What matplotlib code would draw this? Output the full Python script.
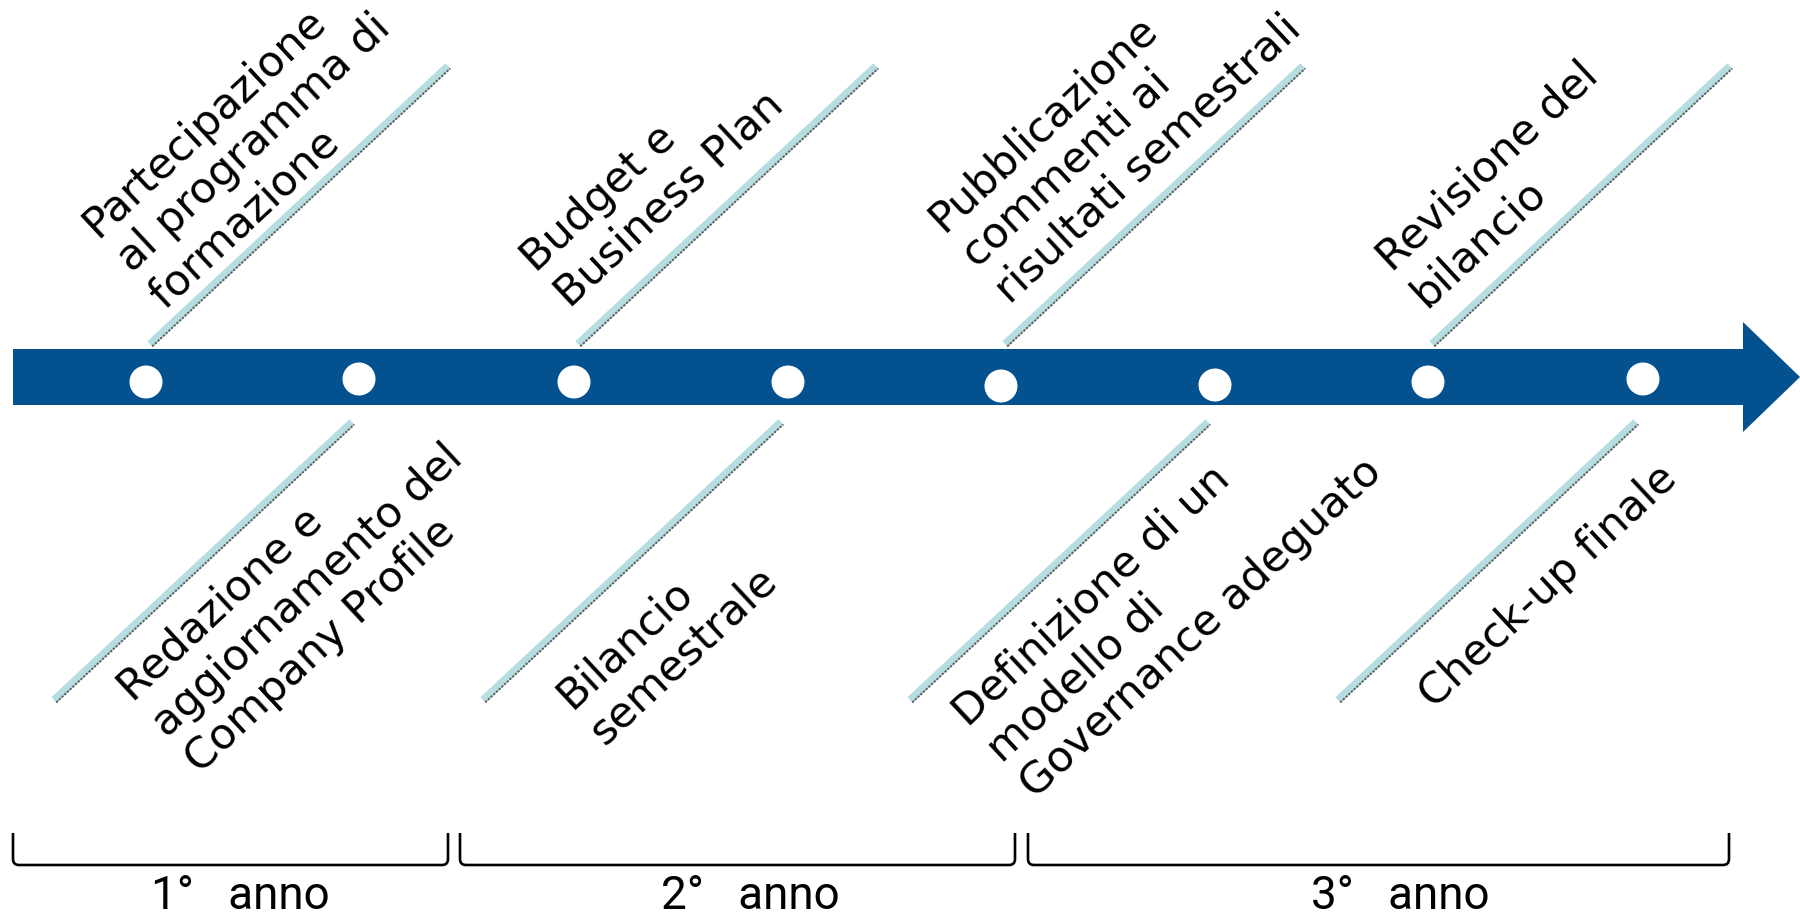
import matplotlib
matplotlib.use("Agg")
import matplotlib.pyplot as plt
from matplotlib.patches import Polygon, Circle, PathPatch
from matplotlib.path import Path
import numpy as np

# Milestones along the timeline (pixel positions on the 1800x916 canvas)
milestone_x = [146, 359, 574, 788, 1001, 1215, 1428, 1643]
milestone_y = [382, 379, 382, 382, 386, 385, 382, 379]

# Activities written above the arrow (attached to milestones 1, 3, 5, 7)
upper_labels = [
    ["Partecipazione", "al programma di", "formazione"],
    ["Budget e", "Business Plan"],
    ["Pubblicazione", "commenti ai", "risultati semestrali"],
    ["Revisione del", "bilancio"],
]
upper_milestone = [0, 2, 4, 6]
upper_text_start = [(98, 238), (536, 273), (943, 233), (1392, 273)]

# Activities written below the arrow (attached to milestones 2, 4, 6, 8)
lower_labels = [
    ["Redazione e", "aggiornamento del", "Company Profile"],
    ["Bilancio", "semestrale"],
    ["Definizione di un", "modello di", "Governance adeguato"],
    ["Check-up finale"],
]
lower_milestone = [1, 3, 5, 7]
lower_text_start = [(133, 703), (571, 710), (968, 728), (1434, 709)]

# Year brackets
year_labels = ["1°   anno", "2°   anno", "3°   anno"]
year_spans = [(13, 448), (460, 1015), (1028, 1729)]
year_label_x = [240, 750, 1400]

BLUE = "#03518F"
STRIPE = "#B6DDE1"
W, H = 1800, 916
ANGLE = 43.0
th = np.deg2rad(ANGLE)
n = np.array([np.sin(th), np.cos(th)])    # next text line direction (image coords)
LINE_STEP = 49
DIAG_DX, DIAG_DY = 298, 278

fig = plt.figure(figsize=(W / 100, H / 100), dpi=100)
ax = fig.add_axes([0, 0, 1, 1])
ax.set_xlim(0, W)
ax.set_ylim(H, 0)
ax.axis("off")

# Timeline arrow
bar_top, bar_bot, bar_x0, head_x = 349, 405, 13, 1743
yc = (bar_top + bar_bot) / 2
arrow = Polygon([(bar_x0, bar_top), (head_x, bar_top), (head_x, 322), (1800, yc),
                 (head_x, 432), (head_x, bar_bot), (bar_x0, bar_bot)],
                closed=True, facecolor=BLUE, edgecolor="none", zorder=2)
ax.add_patch(arrow)

for x, y in zip(milestone_x, milestone_y):
    ax.add_patch(Circle((x, y), 16.5, facecolor="white", edgecolor="none", zorder=3))


def diag(x0, y0):
    """Light blue connector with a fine grey rule on its lower edge."""
    xs = np.array([x0, x0 + DIAG_DX])
    ys = np.array([y0, y0 - DIAG_DY])
    ax.plot(xs, ys, color=STRIPE, lw=5.5, solid_capstyle="butt", zorder=2)
    off = n * 3.3
    ax.plot(xs + off[0], ys + off[1], color="#5f5f5f", lw=1.4,
            linestyle=(0, (1.2, 0.7)), zorder=2)


text_kw = dict(rotation=ANGLE, rotation_mode="anchor", ha="left", va="baseline",
               fontsize=31, family=["DejaVu Sans"], color="black", zorder=4)

for lines, mi, start in zip(upper_labels, upper_milestone, upper_text_start):
    diag(milestone_x[mi] + 4, 344)
    for k, line in enumerate(lines):
        p = np.array(start) + k * LINE_STEP * n
        ax.text(p[0], p[1], line, **text_kw)

for lines, mi, start in zip(lower_labels, lower_milestone, lower_text_start):
    diag(milestone_x[mi] - 7 - DIAG_DX, 700)
    for k, line in enumerate(lines):
        p = np.array(start) + k * LINE_STEP * n
        ax.text(p[0], p[1], line, **text_kw)


def bracket(x0, x1, ytop=833, ybot=865, r=6):
    verts = [(x0, ytop), (x0, ybot - r), (x0, ybot), (x0 + r, ybot),
             (x1 - r, ybot), (x1, ybot), (x1, ybot - r), (x1, ytop)]
    codes = [Path.MOVETO, Path.LINETO, Path.CURVE3, Path.CURVE3,
             Path.LINETO, Path.CURVE3, Path.CURVE3, Path.LINETO]
    ax.add_patch(PathPatch(Path(verts, codes), facecolor="none",
                           edgecolor="black", lw=1.9, zorder=2))


for (x0, x1), lab, lx in zip(year_spans, year_labels, year_label_x):
    bracket(x0, x1)
    ax.text(lx, 909, lab, ha="center", va="baseline", fontsize=33,
            family=["Roboto", "DejaVu Sans"], color="black")

fig.savefig("out.png", dpi=100, facecolor="white")
